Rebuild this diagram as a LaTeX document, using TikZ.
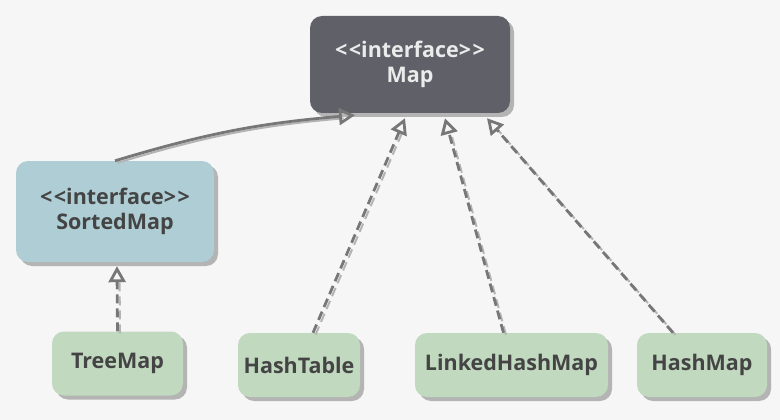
\documentclass[tikz,border=0pt]{standalone}
\usepackage{fontspec}
\setmainfont{Open Sans}
\usetikzlibrary{arrows.meta,shadows}

\definecolor{bgcol}{HTML}{F6F6F6}
\definecolor{mapcol}{HTML}{5F6068}
\definecolor{sortcol}{HTML}{AECDD5}
\definecolor{implcol}{HTML}{C1D9BF}
\definecolor{inkcol}{HTML}{444444}
\definecolor{linecol}{HTML}{777777}
\definecolor{lightcol}{HTML}{B4B4B4}

\begin{document}
\begin{tikzpicture}[
  x=1pt, y=-1pt,
  box/.style={rounded corners=12pt, inner sep=0pt, align=center, text=inkcol,
    font=\bfseries\fontsize{21.5}{25}\selectfont,
    drop shadow={shadow xshift=4pt, shadow yshift=-4pt, fill=lightcol, opacity=1}},
  iface/.style={box, fill=sortcol},
  impl/.style={box, fill=implcol, minimum height=64pt},
  extends/.style={draw=linecol, line width=2.8pt, -{Triangle[open, length=16pt, width=17pt]}},
  realizes/.style={extends, dash pattern=on 9pt off 5pt},
  ghost/.style={draw=lightcol, line width=2pt, shorten >=14pt, transform canvas={xshift=2.5pt, yshift=-2pt}}
]
\fill[bgcol] (0,0) rectangle (780,420);

% interfaces
\node[box, fill=mapcol, text=white!92!black, minimum width=200pt, minimum height=97pt] (map) at (410,64.5)
  {<\kern1.5pt<interface>\kern1.5pt>\\Map};
\node[iface, minimum width=198pt, minimum height=101pt] (sorted) at (115,211.5)
  {<\kern1.5pt<interface>\kern1.5pt>\\SortedMap};

% implementations
\node[impl, minimum width=131pt] (tree) at (117.5,363.5) {TreeMap};
\node[impl, minimum width=122pt] (table) at (299,365) {HashTable};
\node[impl, minimum width=193pt] (linked) at (511.5,365) {LinkedHashMap};
\node[impl, minimum width=130pt] (hash) at (702,365) {HashMap};

% shadow lines
\draw[ghost] (sorted.north) to[bend left=6] ([xshift=-55pt, yshift=-2pt]map.south);
\draw[ghost, dash pattern=on 9pt off 5pt] (tree.north) -- ([xshift=2pt, yshift=-4pt]sorted.south);
\draw[ghost, dash pattern=on 9pt off 5pt] ([xshift=14pt]table.north) -- ([xshift=-5pt, yshift=-5pt]map.south);
\draw[ghost, dash pattern=on 9pt off 5pt] ([xshift=-8pt]linked.north) -- ([xshift=35pt, yshift=-5pt]map.south);
\draw[ghost, dash pattern=on 9pt off 5pt] ([xshift=-29pt]hash.north) -- ([xshift=77pt, yshift=-5pt]map.south);

% relations
\draw[extends] (sorted.north) to[bend left=6] ([xshift=-55pt, yshift=-2pt]map.south);
\draw[realizes] (tree.north) -- ([xshift=2pt, yshift=-4pt]sorted.south);
\draw[realizes] ([xshift=14pt]table.north) -- ([xshift=-5pt, yshift=-5pt]map.south);
\draw[realizes] ([xshift=-8pt]linked.north) -- ([xshift=35pt, yshift=-5pt]map.south);
\draw[realizes] ([xshift=-29pt]hash.north) -- ([xshift=77pt, yshift=-5pt]map.south);
\end{tikzpicture}
\end{document}
